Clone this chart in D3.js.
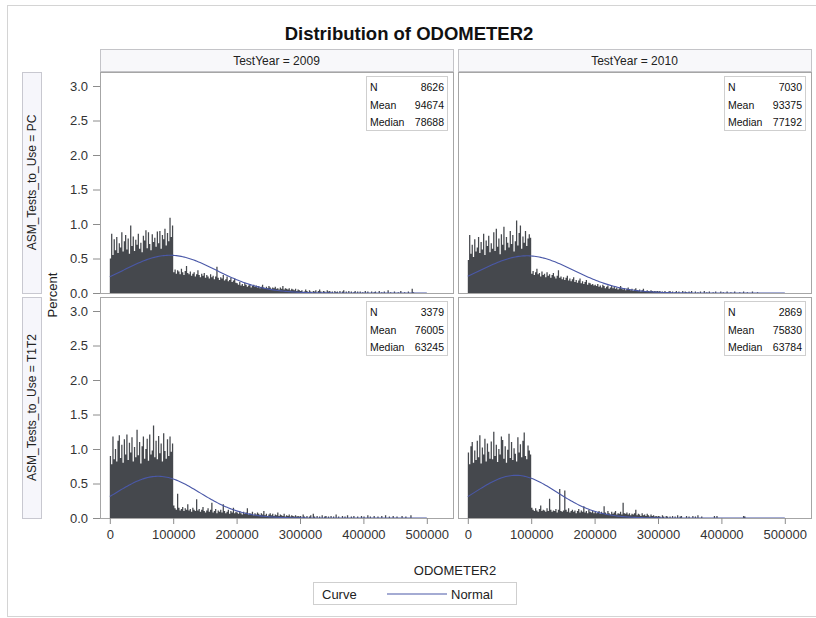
<!DOCTYPE html>
<html>
<head>
<meta charset="utf-8">
<script src="https://cdn.jsdelivr.net/npm/d3@7"></script>
<style>
  html, body { margin: 0; padding: 0; background: #fff; }
  svg { display: block; font-family: "Liberation Sans", Arial, sans-serif; }
</style>
</head>
<body>
<svg id="chart" width="816" height="618"></svg>
<script>
// Histogram bins are 2000 miles wide, heights in hundredths of a percent.
const binWidth = 2000;
const testYears = ["2009", "2010"];
const testTypes = ["PC", "T1T2"];
const xTicks = [0, 100000, 200000, 300000, 400000, 500000];
const yTicks = [0, 0.5, 1.0, 1.5, 2.0, 2.5, 3.0];

// PC, 2009
const pc2009 = [
  50,86,55,78,62,81,58,72,66,88,60,75,84,63,79,57,98,68,82,61,77,70,86,64,73,59,83,76,91,65,88,71,62,85,74,80,67,89,72,90,64,84,78,93,69,87,75,109,81,98,
  30,34,28,33,31,27,35,30,26,32,39,29,27,31,25,28,30,24,27,33,26,23,28,25,29,22,26,24,21,27,23,25,20,24,38,22,19,23,21,26,18,20,24,17,19,22,16,18,21,15,
  14,12,16,11,13,10,15,12,9,11,13,8,10,12,9,11,8,10,7,9,12,8,6,9,7,10,8,6,8,7,9,6,7,5,8,6,10,5,7,6,5,7,4,6,5,4,6,3,5,4,
  3,4,0,2,5,3,0,4,2,0,3,2,4,0,3,5,2,0,3,2,0,4,2,3,0,2,0,3,1,2,0,3,0,2,4,0,2,0,3,0,2,0,1,3,0,2,0,2,0,1,
  0,3,0,2,0,0,2,0,1,2,0,0,3,0,1,0,2,0,0,4,0,1,0,0,2,0,0,1,0,3,0,0,1,0,0,2,0,0,6,1,0,0,0,0,0,0,0,0,0,0
];
// PC, 2010
const pc2010 = [
  48,84,57,70,52,78,60,66,81,58,74,63,86,55,76,68,83,59,72,64,88,61,93,67,79,56,85,70,96,62,81,73,66,90,71,84,60,75,105,69,87,98,64,82,73,90,68,79,85,80,
  28,32,26,30,35,27,29,24,31,26,28,23,30,25,27,22,26,29,24,21,25,33,22,24,20,23,19,22,25,18,21,17,20,23,16,19,15,18,21,14,17,13,16,19,12,15,14,12,13,11,
  12,10,13,9,11,8,12,10,7,9,11,6,8,10,7,9,6,8,5,7,10,6,5,7,4,6,8,5,4,6,3,5,7,4,3,5,2,4,6,3,2,4,3,2,4,3,2,3,2,3,
  2,3,0,2,0,3,1,0,2,3,0,2,0,1,3,0,2,0,0,3,0,2,1,0,2,0,3,0,0,2,0,1,0,2,0,0,3,0,1,0,2,0,0,1,0,2,0,0,0,2,
  0,1,0,0,2,0,0,1,0,0,2,0,0,0,1,0,0,2,0,0,1,0,0,0,2,0,0,0,1,0,0,0,0,0,0,0,0,0,0,0,0,0,0,0,0,0,0,0,0,0
];
// T1T2, 2009
const t1t22009 = [
  90,78,118,85,100,82,112,120,87,106,80,114,92,121,84,109,95,117,82,103,88,128,91,110,79,104,118,86,100,115,83,121,92,98,134,88,112,85,119,94,108,82,123,97,86,114,90,118,96,108,
  18,14,12,35,15,11,13,16,10,14,12,20,11,13,9,15,12,10,27,11,13,9,12,16,10,8,11,14,9,12,22,8,10,13,7,11,9,12,8,20,10,7,9,12,6,10,8,15,7,9,
  8,6,10,7,5,9,6,8,14,5,7,6,9,4,7,5,8,6,4,7,5,10,4,6,3,5,7,4,6,3,5,4,8,3,5,4,3,6,2,4,3,5,2,4,3,2,4,2,3,2,
  3,0,5,2,0,3,0,2,4,0,6,2,0,3,0,2,0,4,0,2,3,0,2,0,3,0,2,0,5,0,2,0,0,3,0,2,0,4,0,0,2,0,3,0,0,2,0,0,3,0,
  2,0,0,4,0,2,0,0,3,0,0,2,0,0,3,0,0,4,0,0,2,0,0,3,0,0,2,0,0,0,3,0,0,2,0,0,0,4,0,0,0,0,0,0,0,0,0,0,0,0
];
// T1T2, 2010
const t1t22010 = [
  95,78,104,110,80,98,84,112,88,120,79,102,92,115,82,108,96,86,111,85,125,90,106,81,100,92,118,113,86,104,80,99,122,87,110,84,101,93,82,117,95,107,88,112,124,90,85,105,98,92,
  15,12,10,14,11,9,13,18,10,12,11,9,14,10,28,12,9,11,10,13,8,12,42,10,9,11,40,12,9,14,8,10,12,9,11,7,10,13,8,11,9,17,8,10,7,12,9,8,10,7,
  9,7,8,10,6,9,7,17,8,6,10,7,5,9,6,8,10,5,7,6,9,5,22,7,6,8,5,7,4,6,5,7,12,4,6,5,3,7,4,5,3,6,4,2,5,3,4,2,3,2,
  3,2,0,4,2,0,3,2,0,2,0,3,0,2,0,4,0,2,3,0,0,0,3,0,2,0,0,3,0,2,0,4,0,0,2,0,0,0,0,0,0,0,0,0,3,0,3,0,0,0,
  0,0,0,0,0,0,0,0,0,0,0,0,0,0,0,0,0,3,2,0,0,0,0,0,0,0,0,0,0,0,0,0,0,0,0,0,0,0,0,0,0,0,0,0,0,0,0,0,0,0
];

// Summary statistics per cell
const statN      = [[8626, 7030], [3379, 2869]];
const statMean   = [[94674, 93375], [76005, 75830]];
const statMedian = [[78688, 77192], [63245, 63784]];
const statStd    = [[73000, 74000], [66000, 64500]];
const curveBinWidth = 1000;   // bin width the fitted curve is scaled to

const cellBins = [[pc2009, pc2010], [t1t22009, t1t22010]];

const svg = d3.select("#chart");

// outer frame
svg.append("rect").attr("x", 7.5).attr("y", 5.5).attr("width", 830).attr("height", 611)
  .attr("fill", "none").attr("stroke", "#d4d4d4");

svg.append("text").attr("x", 409).attr("y", 40).attr("text-anchor", "middle")
  .attr("font-size", 18.5).attr("font-weight", "bold").attr("fill", "#111")
  .text("Distribution of ODOMETER2");

const cols = [{ x0: 100, x1: 453 }, { x0: 458, x1: 811 }];
const rows = [{ y0: 72, y1: 293 }, { y0: 297, y1: 518 }];

// column headers
cols.forEach((c, ci) => {
  svg.append("rect").attr("x", c.x0 + 0.5).attr("y", 49.5).attr("width", c.x1 - c.x0).attr("height", 22)
    .attr("fill", "#f8f8fa").attr("stroke", "#c4c4c8");
  svg.append("text").attr("x", (c.x0 + c.x1) / 2).attr("y", 64.5).attr("text-anchor", "middle")
    .attr("font-size", 12).attr("fill", "#222").text("TestYear = " + testYears[ci]);
});

// row headers
rows.forEach((r, ri) => {
  svg.append("rect").attr("x", 22.5).attr("y", r.y0 + 0.5).attr("width", 19).attr("height", r.y1 - r.y0)
    .attr("fill", "#f6f6fb").attr("stroke", "#c8c8d0");
  const cy = (r.y0 + r.y1) / 2;
  svg.append("text").attr("transform", `translate(36,${cy}) rotate(-90)`).attr("text-anchor", "middle")
    .attr("font-size", 12).attr("fill", "#222").text("ASM_Tests_to_Use = " + testTypes[ri]);
});

// y axis title
svg.append("text").attr("transform", "translate(57,295) rotate(-90)").attr("text-anchor", "middle")
  .attr("font-size", 13).attr("fill", "#222").text("Percent");

const normalPct = (x, m, s) => 100 * curveBinWidth / (s * Math.sqrt(2 * Math.PI)) * Math.exp(-0.5 * ((x - m) / s) ** 2);

rows.forEach((r, ri) => {
  const y = d3.scaleLinear().domain([0, 3]).range([r.y1, r.y1 - 207]);
  cols.forEach((c, ci) => {
    const x = d3.scaleLinear().domain([0, 500000]).range([c.x0 + 9.8, c.x0 + 9.8 + 317]);
    const g = svg.append("g");
    const clipId = `clip-${ri}-${ci}`;
    g.append("clipPath").attr("id", clipId).append("rect")
      .attr("x", c.x0).attr("y", r.y0).attr("width", c.x1 - c.x0).attr("height", r.y1 - r.y0);

    // histogram drawn as one stepped area so neighbouring bins don't leave seams
    const vals = cellBins[ri][ci];
    const steps = vals.map((v, i) => ({ x0: i * binWidth, pct: v / 100 }));
    steps.push({ x0: vals.length * binWidth, pct: 0 });
    g.append("path").attr("clip-path", `url(#${clipId})`).datum(steps)
      .attr("d", d3.area().curve(d3.curveStepAfter).x(d => x(d.x0)).y0(y(0)).y1(d => y(d.pct)))
      .attr("fill", "#45484d");

    // fitted normal curve
    const pts = d3.range(0, 500001, 2500).map(v => [v, normalPct(v, statMean[ri][ci], statStd[ri][ci])]);
    g.append("path").datum(pts)
      .attr("d", d3.line().x(d => x(d[0])).y(d => y(d[1])))
      .attr("fill", "none").attr("stroke", "#4a58a8").attr("stroke-width", 1.1);

    // panel frame
    g.append("rect").attr("x", c.x0 + 0.5).attr("y", r.y0 + 0.5).attr("width", c.x1 - c.x0).attr("height", r.y1 - r.y0)
      .attr("fill", "none").attr("stroke", "#a6a6a6");

    // stats inset
    const bx = c.x1 - 87, by = r.y0 + 4;
    g.append("rect").attr("x", bx + 0.5).attr("y", by + 0.5).attr("width", 81).attr("height", 54)
      .attr("fill", "#fff").attr("stroke", "#cfcfcf");
    const labels = ["N", "Mean", "Median"];
    const stats = [statN[ri][ci], statMean[ri][ci], statMedian[ri][ci]];
    labels.forEach((lab, k) => {
      g.append("text").attr("x", bx + 4).attr("y", by + 15 + k * 17.5).attr("font-size", 10.5).attr("fill", "#111").text(lab);
      g.append("text").attr("x", bx + 78).attr("y", by + 15 + k * 17.5).attr("text-anchor", "end")
        .attr("font-size", 10.5).attr("fill", "#111").text(stats[k]);
    });

    // y axis on first column
    if (ci === 0) {
      const ya = svg.append("g").attr("transform", `translate(${c.x0},0)`)
        .call(d3.axisLeft(y).tickValues(yTicks).tickFormat(d3.format(".1f")).tickSize(7).tickPadding(5));
      ya.select(".domain").remove();
      ya.selectAll("line").attr("stroke", "#8c8c8c");
      ya.selectAll("text").attr("font-size", 13).attr("fill", "#333").attr("font-family", "Liberation Sans, Arial, sans-serif");
    }
    // x axis on bottom row
    if (ri === 1) {
      const xa = svg.append("g").attr("transform", `translate(0,${r.y1})`)
        .call(d3.axisBottom(x).tickValues(xTicks).tickFormat(d3.format("d")).tickSize(6).tickPadding(6));
      xa.select(".domain").remove();
      xa.selectAll("line").attr("stroke", "#8c8c8c");
      xa.selectAll("text").attr("font-size", 13).attr("fill", "#333").attr("font-family", "Liberation Sans, Arial, sans-serif");
    }
  });
});

// x axis title
svg.append("text").attr("x", 455).attr("y", 575).attr("text-anchor", "middle")
  .attr("font-size", 13).attr("fill", "#222").text("ODOMETER2");

// legend
const lg = svg.append("g");
lg.append("rect").attr("x", 313.5).attr("y", 582.5).attr("width", 203).attr("height", 22)
  .attr("fill", "#fff").attr("stroke", "#cfcfcf");
lg.append("text").attr("x", 322).attr("y", 598.5).attr("font-size", 13).attr("fill", "#222").text("Curve");
lg.append("line").attr("x1", 387).attr("x2", 447).attr("y1", 594).attr("y2", 594)
  .attr("stroke", "#4a58a8").attr("stroke-width", 1.1);
lg.append("text").attr("x", 451).attr("y", 598.5).attr("font-size", 13).attr("fill", "#222").text("Normal");
</script>
</body>
</html>
